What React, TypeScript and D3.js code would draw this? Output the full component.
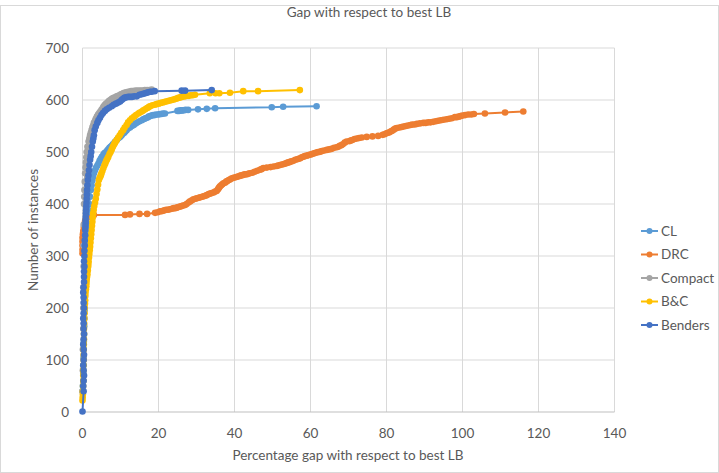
import React from 'react';
import * as d3 from 'd3';

// gap (%) vs cumulative number of instances
const seriesNames = ['CL', 'DRC', 'Compact', 'B&C', 'Benders'];
const seriesColors = ['#5B9BD5', '#ED7D31', '#A5A5A5', '#FFC000', '#4472C4'];

const clPoints: [number, number][] = [
  [0, 40], [0.1, 50], [0.2, 60], [0.2, 75], [0.3, 90], [0.3, 105], [0.3, 120], [0.35, 135],
  [0.4, 150], [0.45, 165], [0.5, 180], [0.55, 195], [0.6, 210], [0.65, 225], [0.7, 240],
  [0.8, 255], [0.9, 270], [0.95, 285], [1.0, 300], [1.1, 312], [1.2, 325], [1.3, 338],
  [1.4, 350], [1.5, 362], [1.6, 375], [1.7, 388], [1.8, 400], [2.0, 414], [2.2, 427],
  [2.4, 436], [2.6, 445], [2.8, 452], [3.0, 459], [3.3, 465], [3.6, 470], [3.9, 474],
  [4.2, 478], [4.5, 483], [4.8, 487], [5.1, 491], [5.5, 495], [5.8, 498], [6.2, 500],
  [6.5, 503], [6.8, 505], [7.1, 508], [7.4, 510], [7.7, 512], [8.0, 515], [8.5, 519],
  [9.0, 523], [9.3, 526], [9.7, 528], [10.0, 530], [10.3, 532], [10.6, 535], [11.0, 537],
  [11.3, 540], [11.6, 542], [12.0, 545], [12.5, 547], [13.0, 550], [13.5, 552], [14.0, 555],
  [14.5, 557], [15.0, 559], [15.6, 561], [16.0, 563], [16.3, 564], [16.6, 565], [17.0, 566],
  [17.4, 568], [17.8, 569], [18.2, 570], [18.6, 571], [19.0, 571], [19.4, 572], [20.0, 572],
  [20.4, 573], [20.8, 573], [21.2, 574], [21.7, 574], [25.0, 579], [25.4, 579], [25.8, 580],
  [26.1, 580], [26.5, 580], [27.1, 581], [27.8, 581], [30.4, 582], [32.7, 583], [34.9, 584],
  [49.8, 586], [52.8, 587], [61.6, 588],
];

const drcPoints: [number, number][] = [
  [0, 305], [0, 312], [0, 320], [0, 328], [0, 335], [0.1, 342], [0.2, 348], [0.35, 355],
  [0.5, 362], [0.7, 368], [1.0, 374], [3.0, 379], [11.2, 379], [12.5, 380], [15.0, 381],
  [17.0, 381], [19.1, 383], [19.8, 384], [20.4, 386], [20.8, 386], [21.2, 387], [21.6, 388],
  [22.0, 389], [22.5, 389], [23.0, 390], [23.5, 391], [24.0, 392], [24.4, 392], [24.8, 393],
  [25.2, 394], [25.7, 395], [26.1, 396], [26.5, 397], [27.0, 398], [27.4, 400], [27.9, 403],
  [28.3, 405], [28.8, 407], [29.2, 409], [29.7, 410], [30.1, 411], [30.6, 412], [31.0, 413],
  [31.5, 414], [31.9, 415], [32.3, 416], [32.7, 417], [33.2, 419], [33.6, 420], [34.0, 421],
  [34.5, 422], [34.9, 424], [35.3, 425], [35.6, 428], [35.8, 430], [36.0, 432], [36.2, 434],
  [36.5, 436], [36.8, 438], [37.1, 440], [37.5, 441], [37.8, 443], [38.1, 444], [38.5, 446],
  [38.8, 447], [39.2, 449], [39.6, 450], [40.0, 451], [40.5, 452], [40.9, 453], [41.4, 454],
  [41.8, 455], [42.3, 456], [42.7, 457], [43.2, 457], [43.6, 458], [44.0, 459], [44.7, 460],
  [45.3, 462], [46.0, 464], [46.7, 466], [47.1, 467], [47.6, 469], [48.5, 470], [49.5, 471],
  [50.3, 472], [51.1, 473], [51.5, 474], [52.0, 475], [52.5, 476], [53.0, 477], [53.4, 478],
  [53.8, 479], [54.2, 480], [54.6, 481], [55.0, 482], [55.5, 483], [56.0, 485], [56.5, 486],
  [56.9, 487], [57.3, 488], [57.7, 490], [58.1, 491], [58.5, 492], [59.0, 493], [59.5, 494],
  [60.0, 495], [60.4, 496], [60.8, 497], [61.2, 498], [61.6, 499], [62.0, 500], [62.3, 500],
  [62.7, 501], [63.0, 502], [63.6, 503], [64.3, 504], [64.9, 505], [65.5, 506], [66.2, 508],
  [66.9, 509], [67.3, 510], [67.7, 512], [68.1, 513], [68.5, 515], [69.0, 518], [69.5, 520],
  [70.3, 521], [70.6, 522], [71.0, 523], [71.6, 525], [72.2, 526], [72.8, 527], [73.5, 528],
  [74.8, 529], [76.3, 530], [77.8, 531], [79.0, 533], [79.5, 534], [80.0, 536], [80.4, 537],
  [80.8, 538], [81.2, 540], [81.5, 541], [81.9, 543], [82.3, 545], [82.7, 546], [83.4, 547],
  [84.0, 548], [84.5, 549], [85.1, 550], [85.7, 551], [86.3, 552], [86.8, 553], [87.4, 553],
  [88.0, 554], [88.8, 555], [89.7, 556], [90.3, 556], [91.0, 557], [91.6, 557], [92.3, 558],
  [93.0, 559], [93.6, 560], [94.3, 561], [95.0, 562], [95.8, 563], [96.5, 564], [97.2, 565],
  [98.0, 567], [98.5, 567], [99.0, 568], [99.5, 569], [100.0, 570], [100.7, 571], [101.5, 572],
  [102.3, 572], [103.0, 573], [105.9, 574], [111.2, 576], [116.0, 578],
];

const compactPoints: [number, number][] = [
  [0, 40], [0.1, 80], [0.1, 120], [0.2, 160], [0.2, 200], [0.2, 240], [0.3, 280], [0.3, 320],
  [0.3, 360], [0.4, 400], [0.45, 414], [0.5, 427], [0.6, 443], [0.7, 459], [0.8, 470],
  [0.9, 480], [1.0, 490], [1.1, 500], [1.3, 510], [1.6, 520], [1.8, 526], [2.0, 532],
  [2.2, 537], [2.4, 542], [2.6, 547], [2.8, 551], [3.0, 556], [3.3, 560], [3.5, 564],
  [3.8, 568], [4.1, 572], [4.4, 575], [4.7, 578], [5.0, 581], [5.3, 584], [5.5, 587],
  [5.8, 590], [6.1, 592], [6.4, 594], [6.8, 597], [7.1, 599], [7.5, 601], [7.8, 603],
  [8.2, 604], [8.6, 605], [9.0, 607], [9.4, 608], [9.9, 610], [10.2, 611], [10.5, 612],
  [10.8, 613], [11.0, 614], [11.5, 615], [12.0, 616], [12.4, 616], [12.8, 617], [13.2, 617],
  [13.5, 617], [14.0, 618], [14.6, 618], [15.2, 618], [15.7, 618], [16.4, 619], [17.0, 619],
  [17.6, 619], [18.2, 620],
];

const bcPoints: [number, number][] = [
  [0, 22], [0.05, 28], [0.1, 34], [0.1, 40], [0.15, 50], [0.2, 60], [0.2, 70], [0.2, 80],
  [0.25, 90], [0.3, 100], [0.3, 110], [0.3, 120], [0.35, 130], [0.4, 140], [0.4, 150],
  [0.4, 160], [0.45, 170], [0.5, 180], [0.55, 190], [0.6, 200], [0.65, 208], [0.7, 215],
  [0.75, 223], [0.8, 230], [0.9, 236], [1.0, 242], [1.05, 248], [1.1, 254], [1.2, 260],
  [1.3, 265], [1.4, 272], [1.5, 280], [1.55, 285], [1.6, 290], [1.7, 297], [1.8, 304],
  [1.9, 311], [2.0, 318], [2.1, 326], [2.2, 334], [2.3, 342], [2.4, 350], [2.5, 358],
  [2.6, 366], [2.7, 374], [2.8, 382], [2.95, 389], [3.1, 396], [3.3, 403], [3.5, 410],
  [3.7, 419], [3.9, 428], [4.1, 437], [4.3, 446], [4.5, 450], [4.7, 453], [4.85, 456],
  [5.0, 459], [5.25, 464], [5.5, 469], [5.75, 474], [6.0, 478], [6.2, 482], [6.4, 485],
  [6.6, 488], [6.8, 491], [7.1, 496], [7.4, 500], [7.7, 505], [8.0, 510], [8.25, 514],
  [8.5, 517], [8.75, 520], [9.0, 523], [9.4, 528], [9.8, 532], [10.2, 537], [10.7, 542],
  [11.1, 547], [11.6, 552], [12.0, 557], [12.5, 561], [13.0, 565], [13.6, 568], [14.1, 571],
  [14.7, 574], [15.1, 576], [15.6, 578], [16.0, 580], [16.5, 582], [16.9, 584], [17.2, 585],
  [17.5, 587], [17.8, 588], [18.4, 590], [19.0, 591], [19.5, 592], [20.0, 593], [20.5, 594],
  [21.0, 595], [21.5, 596], [22.0, 597], [22.5, 598], [23.0, 599], [23.5, 600], [24.0, 601],
  [24.4, 602], [24.8, 603], [25.2, 604], [25.7, 605], [26.1, 606], [26.6, 607], [27.0, 607],
  [27.5, 608], [28.0, 608], [28.5, 609], [29.0, 609], [29.6, 610], [33.5, 613], [35.0, 613],
  [36.0, 613], [38.8, 614], [42.3, 617], [46.2, 617], [57.2, 619],
];

const bendersPoints: [number, number][] = [
  [0, 1], [0.3, 40], [0.2, 50], [0.3, 60], [0.4, 70], [0.3, 80], [0.2, 90], [0.3, 100],
  [0.4, 110], [0.3, 120], [0.2, 130], [0.3, 140], [0.4, 150], [0.3, 160], [0.3, 170],
  [0.2, 180], [0.3, 190], [0.4, 200], [0.3, 210], [0.3, 220], [0.2, 230], [0.3, 240],
  [0.4, 250], [0.4, 260], [0.4, 270], [0.5, 280], [0.4, 290], [0.5, 300], [0.5, 310],
  [0.6, 320], [0.6, 330], [0.7, 340], [0.7, 350], [0.75, 356], [0.8, 362], [0.8, 368],
  [0.85, 375], [0.9, 382], [0.95, 388], [1.0, 395], [1.05, 402], [1.1, 410], [1.15, 418],
  [1.2, 427], [1.3, 436], [1.4, 446], [1.55, 455], [1.7, 465], [1.85, 475], [2.0, 485],
  [2.15, 492], [2.3, 500], [2.5, 510], [2.7, 520], [2.85, 526], [3.0, 532], [3.2, 542],
  [3.5, 549], [3.9, 556], [4.2, 561], [4.6, 566], [5.0, 571], [5.4, 575], [5.9, 579],
  [6.4, 582], [7.0, 585], [7.7, 588], [8.2, 591], [8.8, 593], [9.4, 595], [9.9, 597],
  [10.3, 600], [10.6, 602], [11.0, 604], [11.4, 605], [12.0, 606], [12.5, 606], [13.0, 606],
  [13.6, 607], [14.3, 607], [15.0, 610], [15.6, 611], [16.0, 612], [16.5, 613], [16.9, 614],
  [17.3, 615], [17.8, 616], [18.2, 616], [19.0, 617], [26.1, 618], [27.0, 618], [34.0, 619],
];

const seriesData = [clPoints, drcPoints, compactPoints, bcPoints, bendersPoints];

const xTicks = [0, 20, 40, 60, 80, 100, 120, 140];
const yTicks = [0, 100, 200, 300, 400, 500, 600, 700];

const chartTitle = 'Gap with respect to best LB';
const xTitle = 'Percentage gap with respect to best LB';
const yTitle = 'Number of instances';

const width = 719;
const height = 473;
const font = 'Lato, "Open Sans", sans-serif';
const textColor = '#595959';

export default function App() {
  const x = d3.scaleLinear().domain([0, 140]).range([82.5, 614.5]);
  const y = d3.scaleLinear().domain([0, 700]).range([412, 48]);

  const line = d3.line<[number, number]>()
    .x(d => x(d[0]))
    .y(d => y(d[1]));

  return (
    <svg width={width} height={height} style={{ position: 'absolute', left: 0, top: 0, background: '#fff' }}>
      {/* chart area border */}
      <rect x={0.5} y={5.5} width={width - 1} height={height - 6} fill="#fff" stroke="#d9d9d9" />

      <text x={369} y={17} textAnchor="middle" fontFamily={font} fontSize={13.5} fill={textColor}>
        {chartTitle}
      </text>

      {/* gridlines */}
      {yTicks.filter(t => t > 0).map(t => (
        <line key={'gy' + t} x1={x(0)} x2={x(140)} y1={y(t)} y2={y(t)} stroke="#d9d9d9" strokeWidth={1} />
      ))}
      {xTicks.map(t => (
        <line key={'gx' + t} x1={x(t)} x2={x(t)} y1={y(0)} y2={y(700)} stroke="#d9d9d9" strokeWidth={1} />
      ))}
      <line x1={x(0)} x2={x(140)} y1={y(0)} y2={y(0)} stroke="#bfbfbf" strokeWidth={1} />

      {/* tick labels */}
      {yTicks.map(t => (
        <text key={'ty' + t} x={69} y={y(t)} dy="0.35em" textAnchor="end" fontFamily={font} fontSize={13.5} fill={textColor}>
          {t}
        </text>
      ))}
      {xTicks.map(t => (
        <text key={'tx' + t} x={x(t)} y={433} dy="0.35em" textAnchor="middle" fontFamily={font} fontSize={13.5} fill={textColor}>
          {t}
        </text>
      ))}

      {/* axis titles */}
      <text x={348} y={455} dy="0.35em" textAnchor="middle" fontFamily={font} fontSize={13.5} fill={textColor}>
        {xTitle}
      </text>
      <text transform="translate(33,230) rotate(-90)" dy="0.35em" textAnchor="middle" fontFamily={font} fontSize={13.5} fill={textColor}>
        {yTitle}
      </text>

      {/* series */}
      {seriesData.map((pts, i) => (
        <g key={seriesNames[i]}>
          <path d={line(pts) || ''} fill="none" stroke={seriesColors[i]} strokeWidth={2} />
          {pts.map((p, j) => (
            <circle key={j} cx={x(p[0])} cy={y(p[1])} r={3.3} fill={seriesColors[i]} />
          ))}
        </g>
      ))}

      {/* legend */}
      {seriesNames.map((name, i) => (
        <g key={'lg' + name} transform={`translate(641,${231 + i * 23.5})`}>
          <line x1={0} x2={17} y1={0} y2={0} stroke={seriesColors[i]} strokeWidth={2} />
          <circle cx={8.5} cy={0} r={3} fill={seriesColors[i]} />
          <text x={20} y={0} dy="0.35em" fontFamily={font} fontSize={13.5} fill={textColor}>
            {name}
          </text>
        </g>
      ))}
    </svg>
  );
}
